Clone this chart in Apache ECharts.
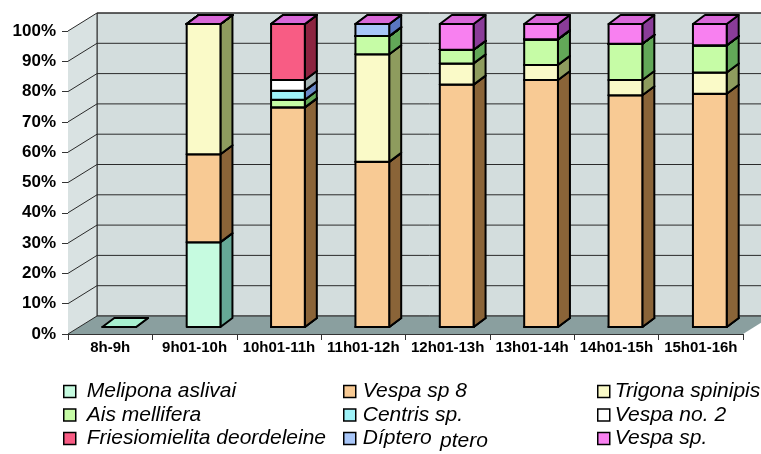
<!DOCTYPE html>
<html>
<head>
<meta charset="utf-8">
<script src="https://cdn.jsdelivr.net/npm/echarts@6/dist/echarts.min.js"></script>
<style>
  html, body { margin: 0; padding: 0; background: #ffffff; }
  #chart { width: 761px; height: 454px; }
</style>
</head>
<body>
<div id="chart"></div>
<script>
// Visiting insects by hour, share of visits (%)
var categories = ['8h-9h', '9h01-10h', '10h01-11h', '11h01-12h', '12h01-13h', '13h01-14h', '14h01-15h', '15h01-16h'];
var yTicks = [0, 10, 20, 30, 40, 50, 60, 70, 80, 90, 100];

var melipona   = [0, 28, 0,    0,    0,   0,    0,    0];
var vespa8     = [0, 29, 72.5, 54.5, 80,  81.5, 76.5, 77];
var trigona    = [0, 43, 0,    35.5, 7,   5,    5,    7];
var ais        = [0, 0,  2.5,  6,    4.5, 8.5,  12,   9];
var centris    = [0, 0,  3,    0,    0,   0,    0,    0];
var vespa2     = [0, 0,  3.5,  0,    0,   0,    0,    0];
var friesio    = [0, 0,  18.5, 0,    0,   0,    0,    0];
var diptero    = [0, 0,  0,    4,    0,   0,    0,    0];
var vespaSp    = [0, 0,  0,    0,    8.5, 5,    6.5,  7];

var seriesNames = ['Melipona aslivai', 'Vespa sp 8', 'Trigona spinipis', 'Ais mellifera',
  'Centris sp.', 'Vespa no. 2', 'Friesiomielita deordeleine', 'Díptero', 'Vespa sp.'];
var seriesValues = [melipona, vespa8, trigona, ais, centris, vespa2, friesio, diptero, vespaSp];

// face colours: front, side, top
var faceColors = [
  ['#c6fbe0', '#66a896', '#a8f0d0'],
  ['#f8ca94', '#8a6438', '#e0b080'],
  ['#fafac8', '#8e9c5e', '#e8e8b0'],
  ['#c6fca6', '#62a858', '#b0e890'],
  ['#9ef2f8', '#6a88c8', '#80d8e0'],
  ['#ffffff', '#a4b4b4', '#e0e0e0'],
  ['#f85c84', '#8c2440', '#d04068'],
  ['#a8c6f8', '#5a76c0', '#90b0e8'],
  ['#f880f0', '#8a3c98', '#d868d8']
];

// oblique projection offsets (px)
var WALL_DX = 29, WALL_DY = -18;   // depth of the floor / back wall
var BAR_SHIFT_X = 9, BAR_SHIFT_Y = -7; // bar front face set back from the front plane
var BAR_DX = 12, BAR_DY = -9;      // bar depth

var totals = categories.map(function (c, i) {
  var s = 0;
  seriesValues.forEach(function (arr) { s += arr[i]; });
  return s;
});

// stacked percentage ranges per series: [category, bottom, top, draw]
var stacked = seriesValues.map(function () { return []; });
categories.forEach(function (c, i) {
  var acc = 0;
  seriesValues.forEach(function (arr, s) {
    var pct = totals[i] > 0 ? arr[i] / totals[i] * 100 : 0;
    var draw = totals[i] > 0 ? 1 : (s === 0 ? 1 : 0);
    stacked[s].push([i, acc, acc + pct, draw]);
    acc += pct;
  });
});

var EDGE = { stroke: '#000', lineWidth: 2, lineJoin: 'round' };

function barRender(colors) {
  return function (params, api) {
    if (!api.value(3)) return null;
    var cat = api.value(0);
    var pB = api.coord([cat, api.value(1)]);
    var pT = api.coord([cat, api.value(2)]);
    var band = api.size([1, 0])[0];
    var w = band * 0.4;
    var x0 = pB[0] + BAR_SHIFT_X - w / 2;
    var x1 = x0 + w;
    var yb = pB[1] + BAR_SHIFT_Y;
    var yt = pT[1] + BAR_SHIFT_Y;
    var children = [];
    // side face
    children.push({
      type: 'polygon',
      shape: { points: [[x1, yb], [x1 + BAR_DX, yb + BAR_DY], [x1 + BAR_DX, yt + BAR_DY], [x1, yt]] },
      style: Object.assign({ fill: colors[1] }, EDGE)
    });
    // front face
    children.push({
      type: 'rect',
      shape: { x: x0, y: yt, width: w, height: yb - yt },
      style: Object.assign({ fill: colors[0] }, EDGE)
    });
    // top face
    children.push({
      type: 'polygon',
      shape: { points: [[x0, yt], [x0 + BAR_DX, yt + BAR_DY], [x1 + BAR_DX, yt + BAR_DY], [x1, yt]] },
      style: Object.assign({ fill: colors[2] }, EDGE)
    });
    return { type: 'group', children: children };
  };
}

function wallRender(params, api) {
  var cs = params.coordSys;
  var L = cs.x, R = cs.x + cs.width;
  var yTop = api.coord([0, 100])[1];
  var yBot = api.coord([0, 0])[1];
  var children = [];
  // back wall
  children.push({
    type: 'rect',
    shape: { x: L + WALL_DX, y: yTop + WALL_DY, width: R - L, height: yBot - yTop },
    style: { fill: '#d3dddd', stroke: '#333', lineWidth: 1 }
  });
  // left side wall
  children.push({
    type: 'polygon',
    shape: { points: [[L, yTop], [L + WALL_DX, yTop + WALL_DY], [L + WALL_DX, yBot + WALL_DY], [L, yBot]] },
    style: { fill: '#d9e2e2' }
  });
  // floor
  children.push({
    type: 'polygon',
    shape: { points: [[L, yBot], [L + WALL_DX, yBot + WALL_DY], [R + WALL_DX, yBot + WALL_DY], [R, yBot]] },
    style: { fill: '#8a9f9f' }
  });
  // grid lines on back and side walls
  yTicks.forEach(function (v) {
    var y = api.coord([0, v])[1];
    children.push({
      type: 'line',
      shape: { x1: L + WALL_DX, y1: y + WALL_DY, x2: R + WALL_DX, y2: y + WALL_DY },
      style: { stroke: '#2a2a2a', lineWidth: 1 }
    });
    children.push({
      type: 'line',
      shape: { x1: L, y1: y, x2: L + WALL_DX, y2: y + WALL_DY },
      style: { stroke: '#2a2a2a', lineWidth: 1 }
    });
  });
  children.push({
    type: 'line',
    shape: { x1: L + WALL_DX, y1: yTop + WALL_DY, x2: L + WALL_DX, y2: yBot + WALL_DY },
    style: { stroke: '#2a2a2a', lineWidth: 1 }
  });
  return { type: 'group', children: children };
}

var series = [{
  type: 'custom',
  name: 'walls',
  silent: true,
  clip: false,
  z: 1,
  data: [[0, 0]],
  renderItem: wallRender
}];

seriesNames.forEach(function (name, s) {
  series.push({
    type: 'custom',
    name: name,
    clip: false,
    z: 3,
    itemStyle: { color: faceColors[s][0] },
    encode: { x: 0, y: [1, 2] },
    data: stacked[s],
    renderItem: barRender(faceColors[s])
  });
});

var legendFont = { fontFamily: 'Liberation Sans, Arial, sans-serif', fontStyle: 'italic', fontSize: 21, lineHeight: 21, color: '#000' };
function legendCol(left, names, pad) {
  return {
    orient: 'vertical',
    left: left,
    top: 381,
    height: 72,
    padding: 0,
    itemWidth: 12,
    itemHeight: 12,
    itemGap: 2.5,
    icon: 'rect',
    data: names,
    selectedMode: false,
    itemStyle: { borderColor: '#000', borderWidth: 1.5 },
    textStyle: Object.assign({ padding: [0, 0, 0, pad] }, legendFont)
  };
}

var chart = echarts.init(document.getElementById('chart'), null, { renderer: 'canvas' });
chart.setOption({
  animation: false,
  backgroundColor: '#ffffff',
  grid: { left: 68, top: 31, width: 675, height: 303 },
  xAxis: {
    type: 'category',
    data: categories,
    boundaryGap: true,
    axisLine: { show: true, lineStyle: { color: '#333', width: 1 } },
    axisTick: { show: true, interval: 0, length: 6, lineStyle: { color: '#333' } },
    axisLabel: { interval: 0, margin: 6, fontFamily: 'Liberation Sans, Arial, sans-serif', fontWeight: 'bold', fontSize: 15, color: '#000' },
    splitLine: { show: false }
  },
  yAxis: {
    type: 'value',
    min: 0,
    max: 100,
    interval: 10,
    axisLine: { show: false },
    axisTick: { show: true, length: 6, lineStyle: { color: '#333' } },
    axisLabel: { margin: 12, formatter: '{value}%', fontFamily: 'Liberation Sans, Arial, sans-serif', fontWeight: 'bold', fontSize: 17, color: '#000' },
    splitLine: { show: false }
  },
  legend: [
    legendCol(63, ['Melipona aslivai', 'Ais mellifera', 'Friesiomielita deordeleine'], 6),
    legendCol(343, ['Vespa sp 8', 'Centris sp.', 'Díptero'], 2),
    legendCol(597, ['Trigona spinipis', 'Vespa no. 2', 'Vespa sp.'], 0)
  ],
  graphic: [{
    type: 'text',
    left: 440,
    top: 431,
    style: { text: 'ptero', fill: '#000', font: 'italic 21px "Liberation Sans", Arial, sans-serif' }
  }],
  series: series
});
</script>
</body>
</html>
